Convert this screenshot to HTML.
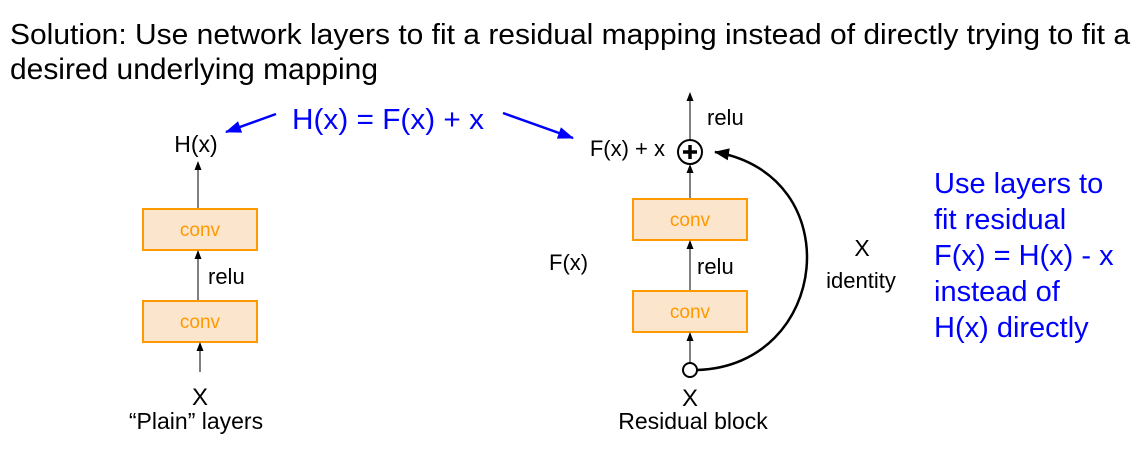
<!DOCTYPE html>
<html><head><style>body{margin:0;background:#fff}</style></head><body>
<svg width="1143" height="452" xmlns="http://www.w3.org/2000/svg" font-family="Liberation Sans, Arial, sans-serif">
<defs>
<marker id="a" markerWidth="10" markerHeight="10" refX="8" refY="4" orient="auto" markerUnits="userSpaceOnUse"><path d="M0,0.5 L9,4 L0,7.5 z" fill="#000"/></marker>
<marker id="b" markerWidth="18" markerHeight="14" refX="15" refY="7" orient="auto" markerUnits="userSpaceOnUse"><path d="M0,1 L16,7 L0,13 z" fill="#00f"/></marker>
<marker id="c" markerWidth="16" markerHeight="14" refX="14" refY="7" orient="auto" markerUnits="userSpaceOnUse"><path d="M0,1 L15,7 L0,13 z" fill="#000"/></marker>
</defs>
<text x="10" y="44" font-size="29" textLength="1120" lengthAdjust="spacingAndGlyphs">Solution: Use network layers to fit a residual mapping instead of directly trying to fit a</text>
<text x="10" y="79" font-size="29.5" textLength="368" lengthAdjust="spacingAndGlyphs">desired underlying mapping</text>

<text x="292" y="129" font-size="29" fill="#00f" textLength="192" lengthAdjust="spacingAndGlyphs">H(x) = F(x) + x</text>
<line x1="276" y1="114" x2="226" y2="132" stroke="#00f" stroke-width="2.5" marker-end="url(#b)"/>
<line x1="503" y1="113" x2="573" y2="138" stroke="#00f" stroke-width="2.5" marker-end="url(#b)"/>

<text x="196" y="152" font-size="23" text-anchor="middle">H(x)</text>
<line x1="198" y1="208" x2="198" y2="162" stroke="#000" marker-end="url(#a)"/>
<rect x="143" y="209" width="114" height="41" fill="#fce5cd" stroke="#ff9900" stroke-width="2"/>
<text x="200" y="236" font-size="19" fill="#ff9900" text-anchor="middle">conv</text>
<line x1="198" y1="300" x2="198" y2="251" stroke="#000" marker-end="url(#a)"/>
<text x="208" y="284" font-size="22">relu</text>
<rect x="143" y="301" width="114" height="41" fill="#fce5cd" stroke="#ff9900" stroke-width="2"/>
<text x="200" y="328" font-size="19" fill="#ff9900" text-anchor="middle">conv</text>
<line x1="200" y1="372" x2="200" y2="343" stroke="#000" marker-end="url(#a)"/>
<text x="200" y="405" font-size="24" text-anchor="middle">X</text>
<text x="196" y="429" font-size="23" text-anchor="middle">“Plain” layers</text>

<line x1="690" y1="140" x2="690" y2="93" stroke="#000" marker-end="url(#a)"/>
<text x="707" y="125" font-size="22">relu</text>
<text x="665" y="156" font-size="22" text-anchor="end">F(x) + x</text>
<circle cx="690" cy="152" r="12" fill="#fff" stroke="#000" stroke-width="2"/>
<path d="M683,152 H697 M690,145 V159" stroke="#000" stroke-width="3.5"/>
<line x1="690" y1="198" x2="690" y2="165" stroke="#000" marker-end="url(#a)"/>
<rect x="633" y="199" width="114" height="41" fill="#fce5cd" stroke="#ff9900" stroke-width="2"/>
<text x="690" y="226" font-size="19" fill="#ff9900" text-anchor="middle">conv</text>
<line x1="690" y1="290" x2="690" y2="241" stroke="#000" marker-end="url(#a)"/>
<text x="697" y="274" font-size="22">relu</text>
<text x="549" y="270" font-size="22">F(x)</text>
<rect x="633" y="291" width="114" height="41" fill="#fce5cd" stroke="#ff9900" stroke-width="2"/>
<text x="690" y="318" font-size="19" fill="#ff9900" text-anchor="middle">conv</text>
<line x1="690" y1="362" x2="690" y2="333" stroke="#000" marker-end="url(#a)"/>
<circle cx="690" cy="370" r="7" fill="#fff" stroke="#000" stroke-width="2"/>
<path d="M697,370 C830,366 850,175 715,152" fill="none" stroke="#000" stroke-width="2.5" marker-end="url(#c)"/>
<text x="862" y="256" font-size="23" text-anchor="middle">X</text>
<text x="861" y="288" font-size="22" text-anchor="middle">identity</text>
<text x="690" y="406" font-size="24" text-anchor="middle">X</text>
<text x="693" y="429" font-size="23" text-anchor="middle">Residual block</text>

<g font-size="29" fill="#00f">
<text x="934" y="193">Use layers to</text>
<text x="934" y="229">fit residual</text>
<text x="934" y="265">F(x) = H(x) - x</text>
<text x="934" y="301">instead of</text>
<text x="934" y="337">H(x) directly</text>
</g>
</svg>
</body></html>
